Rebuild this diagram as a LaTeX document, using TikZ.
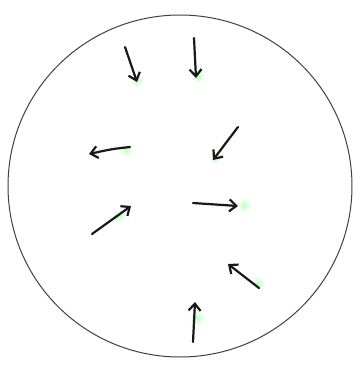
\documentclass[tikz,border=0pt]{standalone}
\usetikzlibrary{arrows.meta}
\begin{document}
\begin{tikzpicture}[x=1pt,y=-1pt,
  hand/.style={line width=2.2pt,black!90,line cap=round,-{Straight Barb[length=7pt,width=12pt,line width=2.2pt]}},
  glow/.style={inner color=green!25,outer color=white}]
\useasboundingbox (0,0) rectangle (360,365);
\fill[white] (0,0) rectangle (360,365);
% glows
\shade[glow] (137,80) circle (7);
\shade[glow] (198,76) circle (7);
\shade[glow] (126,150) circle (7);
\shade[glow] (215,158) circle (6);
\shade[glow] (118,216) circle (7);
\shade[glow] (244,205) circle (7);
\shade[glow] (258,283) circle (7);
\shade[glow] (197,318) circle (8);
\draw[line width=1pt,black!75] (180,186) ellipse (172 and 171);
\draw[hand] (125,47) -- (137,82);
\draw[hand] (194,38) -- (196,78);
\draw[hand] (130,147) .. controls (112,149) .. (89,154);
\draw[hand] (238,127) -- (213,160);
\draw[hand] (92,234) -- (131,206);
\draw[hand] (193,203) -- (238,206);
\draw[hand] (259,288) -- (228,264);
\draw[hand] (193,342) -- (195,302);
\end{tikzpicture}
\end{document}
